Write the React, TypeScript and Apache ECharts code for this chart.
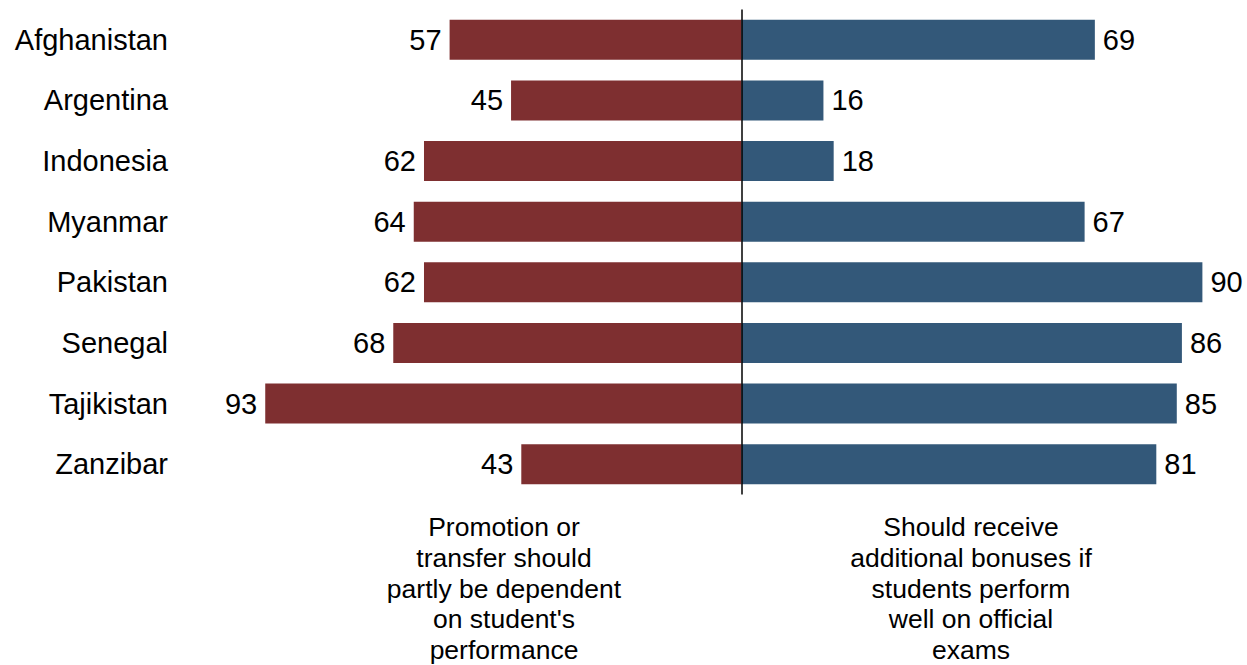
import React, { useEffect, useRef } from "react";
import * as echarts from "echarts";

const countries = ["Afghanistan", "Argentina", "Indonesia", "Myanmar", "Pakistan", "Senegal", "Tajikistan", "Zanzibar"];
const promotionValues = [57, 45, 62, 64, 62, 68, 93, 43];
const bonusValues = [69, 16, 18, 67, 90, 86, 85, 81];
const leftCaption = "Promotion or\ntransfer should\npartly be dependent\non student's\nperformance";
const rightCaption = "Should receive\nadditional bonuses if\nstudents perform\nwell on official\nexams";

const FONT = "'Liberation Sans', Arial, Helvetica, sans-serif";

export default function App() {
  const ref = useRef<HTMLDivElement>(null);
  useEffect(() => {
    if (!ref.current) return;
    const chart = echarts.init(ref.current, undefined, { renderer: "svg" });
    chart.setOption({
      animation: false,
      backgroundColor: "#ffffff",
      textStyle: { fontFamily: FONT },
      grid: { left: 255, top: 9.5, width: 973, height: 485, containLabel: false, outerBoundsMode: "none" },
      xAxis: {
        type: "value",
        min: -95,
        max: 95,
        show: false,
      },
      yAxis: {
        type: "category",
        data: countries,
        inverse: true,
        axisLine: { show: false },
        axisTick: { show: false },
        splitLine: { show: false },
        axisLabel: { fontSize: 29, color: "#000", fontFamily: FONT, margin: 87 },
      },
      series: [
        {
          type: "bar",
          name: "Promotion",
          data: promotionValues.map((v) => -v),
          barWidth: 40,
          barGap: "-100%",
          itemStyle: { color: "#7E2F30" },
          label: {
            show: true,
            position: "left",
            distance: 8,
            fontSize: 29,
            color: "#000",
            fontFamily: FONT,
            formatter: (p: any) => String(Math.abs(p.value)),
          },
          markLine: {
            silent: true,
            symbol: "none",
            label: { show: false },
            lineStyle: { color: "#000", width: 1.5, type: "solid" },
            data: [{ xAxis: 0 }],
            z: 10,
          },
        },
        {
          type: "bar",
          name: "Bonus",
          data: bonusValues,
          barWidth: 40,
          itemStyle: { color: "#335879" },
          label: {
            show: true,
            position: "right",
            distance: 8,
            fontSize: 29,
            color: "#000",
            fontFamily: FONT,
          },
        },
      ],
      graphic: [
        {
          type: "text",
          x: 504,
          y: 511.5,
          style: {
            text: leftCaption,
            fontSize: 26.5,
            lineHeight: 30.8,
            fontFamily: FONT,
            fill: "#000",
            textAlign: "center",
            textVerticalAlign: "top",
          },
        },
        {
          type: "text",
          x: 971,
          y: 511.5,
          style: {
            text: rightCaption,
            fontSize: 26.5,
            lineHeight: 30.8,
            fontFamily: FONT,
            fill: "#000",
            textAlign: "center",
            textVerticalAlign: "top",
          },
        },
      ],
    });
    return () => chart.dispose();
  }, []);
  return (
    <div
      ref={ref}
      style={{ position: "fixed", left: 0, top: 0, width: 1247, height: 665, background: "#fff" }}
    />
  );
}
